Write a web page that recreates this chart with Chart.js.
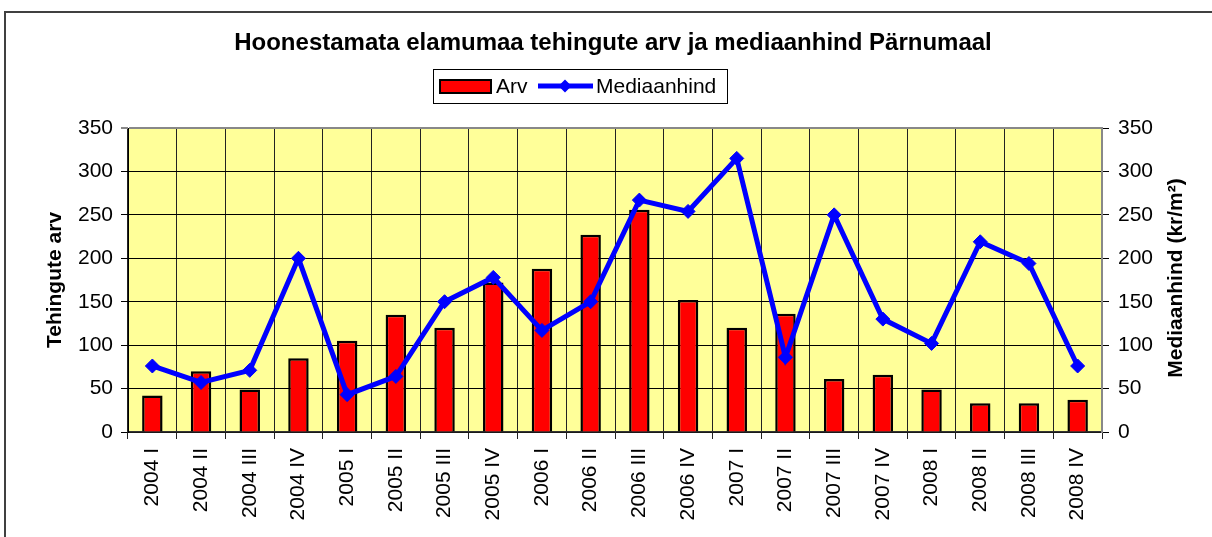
<!DOCTYPE html>
<html>
<head>
<meta charset="utf-8">
<script src="https://cdn.jsdelivr.net/npm/chart.js@4.4.1/dist/chart.umd.min.js"></script>
<style>
html,body{margin:0;padding:0;background:#fff;}
#wrap{width:1212px;height:537px;position:relative;}
</style>
</head>
<body>
<div id="wrap"><canvas id="c" width="1212" height="537"></canvas></div>
<script>
const chartTitle = 'Hoonestamata elamumaa tehingute arv ja mediaanhind Pärnumaal';
const categories = ['2004 I','2004 II','2004 III','2004 IV','2005 I','2005 II','2005 III','2005 IV',
  '2006 I','2006 II','2006 III','2006 IV','2007 I','2007 II','2007 III','2007 IV',
  '2008 I','2008 II','2008 III','2008 IV'];
const arvValues = [42,70,49,85,105,135,120,172,188,227,256,152,120,136,61,66,49,33,33,37];
const medianValues = [76,57,71,200,43,64,150,178,117,150,267,254,315,86,250,130,102,219,194,76];
const yTicks = [0,50,100,150,200,250,300,350];
const seriesNames = ['Arv','Mediaanhind'];
const leftTitle = 'Tehingute arv';
const rightTitle = 'Mediaanhind (kr/m²)';

const FONT = "'Liberation Sans', Arial, Helvetica, sans-serif";
Chart.defaults.font.family = FONT;
Chart.defaults.color = '#000';

const decor = {
  id: 'decor',
  beforeDraw(chart) {
    const ctx = chart.ctx;
    const a = chart.chartArea;
    ctx.save();
    ctx.fillStyle = '#fff';
    ctx.fillRect(0, 0, chart.width, chart.height);
    ctx.strokeStyle = '#404040';
    ctx.lineWidth = 2;
    ctx.beginPath();
    ctx.moveTo(5, chart.height + 2);
    ctx.lineTo(5, 12);
    ctx.lineTo(chart.width + 2, 12);
    ctx.stroke();
    ctx.fillStyle = '#FFFF99';
    ctx.fillRect(a.left, a.top, a.right - a.left, a.bottom - a.top);
    ctx.restore();
  },
  afterDraw(chart) {
    const ctx = chart.ctx;
    const a = chart.chartArea;
    ctx.save();
    ctx.fillStyle = '#000';
    ctx.font = 'bold 24px ' + FONT;
    ctx.textAlign = 'center';
    ctx.textBaseline = 'middle';
    ctx.fillText(chartTitle, 613, 43);
    ctx.fillStyle = '#fff';
    ctx.fillRect(433, 69, 294, 34);
    ctx.strokeStyle = '#000';
    ctx.lineWidth = 1;
    ctx.strokeRect(433.5, 69.5, 294, 34);
    ctx.fillStyle = '#FF0000';
    ctx.fillRect(440, 80, 51, 13);
    ctx.lineWidth = 2;
    ctx.strokeRect(440, 80, 51, 13);
    ctx.fillStyle = '#000';
    ctx.font = '21px ' + FONT;
    ctx.textAlign = 'left';
    ctx.fillText(seriesNames[0], 496, 87);
    ctx.strokeStyle = '#0000FF';
    ctx.lineWidth = 5;
    ctx.beginPath();
    ctx.moveTo(538, 86);
    ctx.lineTo(593, 86);
    ctx.stroke();
    ctx.fillStyle = '#0000FF';
    ctx.beginPath();
    ctx.moveTo(565, 79.5); ctx.lineTo(571.5, 86); ctx.lineTo(565, 92.5); ctx.lineTo(558.5, 86);
    ctx.closePath(); ctx.fill();
    ctx.fillStyle = '#000';
    ctx.fillText(seriesNames[1], 596, 87);
    ctx.font = 'bold 21px ' + FONT;
    ctx.textAlign = 'center';
    const cy = (a.top + a.bottom) / 2;
    ctx.save();
    ctx.translate(55, cy);
    ctx.rotate(-Math.PI / 2);
    ctx.fillText(leftTitle, 0, 0);
    ctx.restore();
    ctx.save();
    ctx.translate(1176, cy - 2);
    ctx.rotate(-Math.PI / 2);
    ctx.fillText(rightTitle, 0, 0);
    ctx.restore();
    ctx.restore();
  }
};

new Chart(document.getElementById('c'), {
  data: {
    labels: categories,
    datasets: [
      {
        type: 'line',
        label: seriesNames[1],
        data: medianValues,
        yAxisID: 'y1',
        borderColor: '#0000FF',
        backgroundColor: '#0000FF',
        borderWidth: 5,
        tension: 0,
        pointStyle: 'rectRot',
        pointRadius: 7,
        pointBorderWidth: 1,
        pointBackgroundColor: '#0000FF',
        pointBorderColor: '#0000FF',
        order: 1
      },
      {
        type: 'bar',
        label: seriesNames[0],
        data: arvValues,
        yAxisID: 'y',
        backgroundColor: '#FF0000',
        borderColor: '#000',
        borderWidth: 2.5,
        barPercentage: 0.42,
        categoryPercentage: 1,
        order: 2
      }
    ]
  },
  options: {
    responsive: false,
    animation: false,
    devicePixelRatio: 1,
    layout: { padding: { top: 128, left: 0, right: 0, bottom: 0 } },
    plugins: {
      legend: { display: false },
      title: { display: false },
      tooltip: { enabled: false }
    },
    scales: {
      x: {
        offset: true,
        grid: { color: '#222', lineWidth: 1, tickLength: 7, offset: true, drawTicks: true },
        border: { color: '#333', width: 1.5 },
        ticks: { font: { size: 21 }, color: '#000', minRotation: 90, maxRotation: 90, autoSkip: false, padding: 9 },
        afterFit(s) { s.height = 105; }
      },
      y: {
        position: 'left',
        min: 0, max: 350,
        afterBuildTicks(s) { s.ticks = yTicks.map(v => ({ value: v })); },
        grid: {
          color: c => (c.tick && c.tick.value === 350) ? '#888' : '#000',
          lineWidth: c => (c.tick && c.tick.value === 350) ? 2 : 1,
          tickLength: 7
        },
        border: { color: '#000', width: 1 },
        ticks: { font: { size: 21 }, color: '#000', padding: 8 },
        afterFit(s) { s.width = 128; }
      },
      y1: {
        position: 'right',
        min: 0, max: 350,
        afterBuildTicks(s) { s.ticks = yTicks.map(v => ({ value: v })); },
        grid: { drawOnChartArea: false, color: '#000', tickLength: 7 },
        border: { color: '#888', width: 2 },
        ticks: { font: { size: 21 }, color: '#000', padding: 9 },
        afterFit(s) { s.width = 110; }
      }
    }
  },
  plugins: [decor]
});
</script>
</body>
</html>
